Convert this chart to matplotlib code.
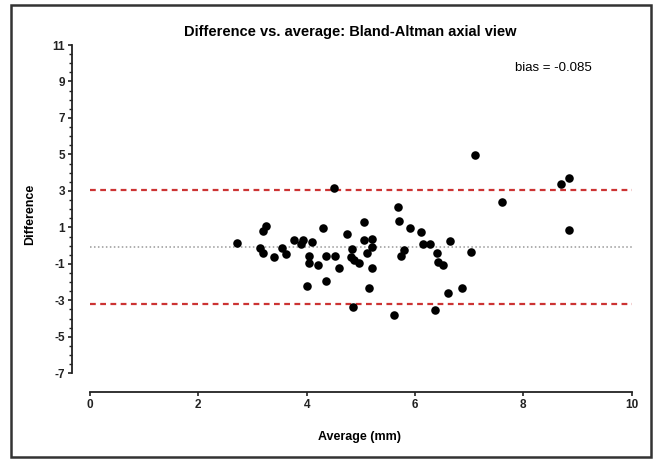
import matplotlib
matplotlib.use("Agg")
import matplotlib.pyplot as plt
from matplotlib.patches import Rectangle
from matplotlib.ticker import MultipleLocator

plt.rcParams['font.family'] = ['Liberation Sans', 'DejaVu Sans']
plt.rcParams['axes.unicode_minus'] = False

# Bland-Altman data
average = [2.71, 3.25, 3.20, 3.14, 3.20, 3.40, 3.55, 3.61, 3.76, 3.89,
           3.94, 4.10, 4.30, 4.05, 4.05, 4.21, 4.36, 4.53, 4.60, 4.01,
           4.36, 4.51, 4.75, 4.84, 4.81, 4.88, 4.96, 4.85, 5.06, 5.05,
           5.21, 5.21, 5.11, 5.21, 5.15, 5.62, 5.69, 5.70, 5.91, 6.11,
           6.15, 6.28, 5.80, 5.75, 6.40, 6.42, 6.51, 6.65, 7.04, 6.86,
           6.61, 6.36, 7.11, 7.60, 8.70, 8.85, 8.85]
difference = [0.15, 1.05, 0.78, -0.13, -0.43, -0.64, -0.13, -0.45, 0.29, 0.08,
              0.30, 0.18, 0.95, -0.56, -0.96, -1.05, -0.56, -0.57, -1.22, -2.23,
              -1.96, 3.15, 0.66, -0.16, -0.62, -0.79, -0.95, -3.34, 1.27, 0.30,
              0.39, -0.06, -0.43, -1.22, -2.33, -3.79, 2.14, 1.37, 0.98, 0.76,
              0.07, 0.07, -0.24, -0.57, -0.43, -0.89, -1.06, 0.25, -0.33, -2.31,
              -2.62, -3.53, 4.97, 2.37, 3.36, 3.69, 0.86]
bias = -0.085
upper_loa = 3.04
lower_loa = -3.21

W, H = 657, 461
fig = plt.figure(figsize=(W / 100, H / 100), dpi=100)

# axes placed so that x 0..10 and y -7..11 land where they are in the reference
x0, x1 = 90, 631.7
y_top, y_bot = 45, 373.3
ax = fig.add_axes([x0 / W, 1 - y_bot / H, (x1 - x0) / W, (y_bot - y_top) / H])

ax.scatter(average, difference, s=38, color='black', zorder=3, linewidths=0)
ax.plot([0, 10], [bias, bias], color='#999999', lw=1.1, ls=(0, (1, 1.6)), zorder=2)
ax.plot([0, 10], [upper_loa, upper_loa], color='#cc3333', lw=1.6, ls=(0, (2.6, 2.0)), zorder=2)
ax.plot([0, 10], [lower_loa, lower_loa], color='#cc3333', lw=1.6, ls=(0, (2.6, 2.0)), zorder=2)

ax.set_xlim(0, 10)
ax.set_ylim(-7, 11)
ax.set_xticks([0, 2, 4, 6, 8, 10])
ax.set_yticks([11, 9, 7, 5, 3, 1, -1, -3, -5, -7])
ax.yaxis.set_minor_locator(MultipleLocator(0.5))

# Prism style detached axes
ax.spines['top'].set_visible(False)
ax.spines['right'].set_visible(False)
ax.spines['left'].set_position(('axes', -(x0 - 72) / (x1 - x0)))
ax.spines['bottom'].set_position(('axes', -(392 - y_bot) / (y_bot - y_top)))
for sp in ('left', 'bottom'):
    ax.spines[sp].set_linewidth(1.3)
    ax.spines[sp].set_color('#222222')

ax.tick_params(axis='both', which='major', length=3, width=1.2, colors='#222222',
               labelsize=8.5, pad=2)
ax.tick_params(axis='y', which='minor', length=2, width=1.0, colors='#222222')
for lab in ax.get_xticklabels() + ax.get_yticklabels():
    lab.set_fontweight('bold')

fig.text(350 / W, 1 - 32 / H, 'Difference vs. average: Bland-Altman axial view',
         ha='center', va='center', fontsize=10.5, fontweight='bold')
fig.text(553 / W, 1 - 68 / H, 'bias = -0.085', ha='center', va='center', fontsize=9.5)
fig.text(30 / W, 1 - 214 / H, 'Difference', ha='center', va='center', rotation=90,
         fontsize=9, fontweight='bold')
fig.text(360 / W, 1 - 437 / H, 'Average (mm)', ha='center', va='center',
         fontsize=9, fontweight='bold')

# frame around the whole picture
fig.patches.append(Rectangle((11 / W, 4 / H), 640 / W, 452 / H, transform=fig.transFigure,
                             fill=False, edgecolor='#333333', lw=1.8))

fig.savefig('out.png', dpi=100)
